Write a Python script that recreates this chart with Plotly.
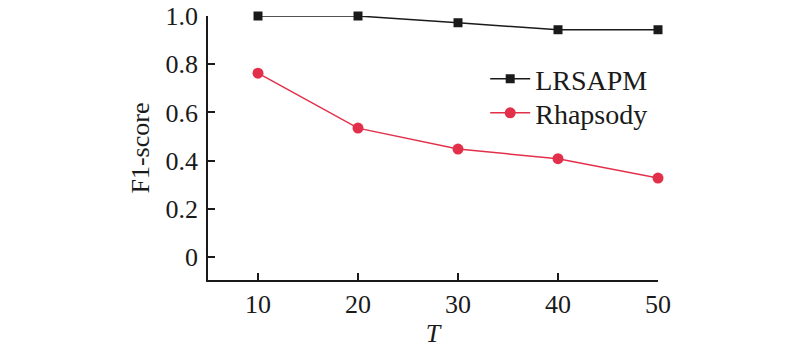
import plotly.graph_objects as go

T = [10, 20, 30, 40, 50]
lrsapm = [1.0, 1.0, 0.972, 0.943, 0.943]
rhapsody = [0.763, 0.535, 0.448, 0.408, 0.328]
y_ticks = [0, 0.2, 0.4, 0.6, 0.8, 1.0]
y_labels = ["0", "0.2", "0.4", "0.6", "0.8", "1.0"]

FONT = "Liberation Serif"
RED = "#e2304a"
BLACK = "#1a1a1a"

fig = go.Figure()
fig.add_trace(go.Scatter(x=T, y=lrsapm, name="LRSAPM", mode="lines+markers",
                         line=dict(color=BLACK, width=1.5),
                         marker=dict(symbol="square", size=9, color=BLACK),
                         cliponaxis=False, legend="legend"))
fig.add_trace(go.Scatter(x=T, y=rhapsody, name="Rhapsody", mode="lines+markers",
                         line=dict(color=RED, width=1.5),
                         marker=dict(symbol="circle", size=11, color=RED),
                         cliponaxis=False, legend="legend2"))

leg_common = dict(xanchor="left", yanchor="top", bgcolor="rgba(0,0,0,0)",
                  font=dict(family=FONT, size=28, color=BLACK), itemwidth=40)

fig.update_layout(
    width=800, height=350,
    margin=dict(l=208, r=142, t=16, b=70),
    paper_bgcolor="white", plot_bgcolor="white",
    font=dict(family=FONT, size=26, color=BLACK),
    showlegend=True,
    legend=dict(x=0.616, y=0.856, **leg_common),
    legend2=dict(x=0.616, y=0.727, **leg_common),
)
fig.update_xaxes(range=[5, 50], tickvals=T, ticks="inside", ticklen=7,
                 tickwidth=1.5, tickcolor=BLACK,
                 tickfont=dict(family=FONT, size=26, color=BLACK),
                 showline=True, linecolor=BLACK, linewidth=1.5,
                 showgrid=False, zeroline=False, automargin=False,
                 title=dict(text="<i>T</i>", standoff=6,
                            font=dict(family=FONT, size=26, color=BLACK)))
fig.update_yaxes(range=[-0.095, 1.0], tickvals=y_ticks, ticktext=y_labels,
                 ticks="inside", ticklen=7, tickwidth=1.5, tickcolor=BLACK,
                 tickfont=dict(family=FONT, size=26, color=BLACK),
                 ticklabelstandoff=3,
                 showline=True, linecolor=BLACK, linewidth=1.5,
                 showgrid=False, zeroline=False, automargin=False,
                 title=dict(text="F1-score", standoff=8,
                            font=dict(family=FONT, size=26, color=BLACK)))

fig.write_html("out.html")
